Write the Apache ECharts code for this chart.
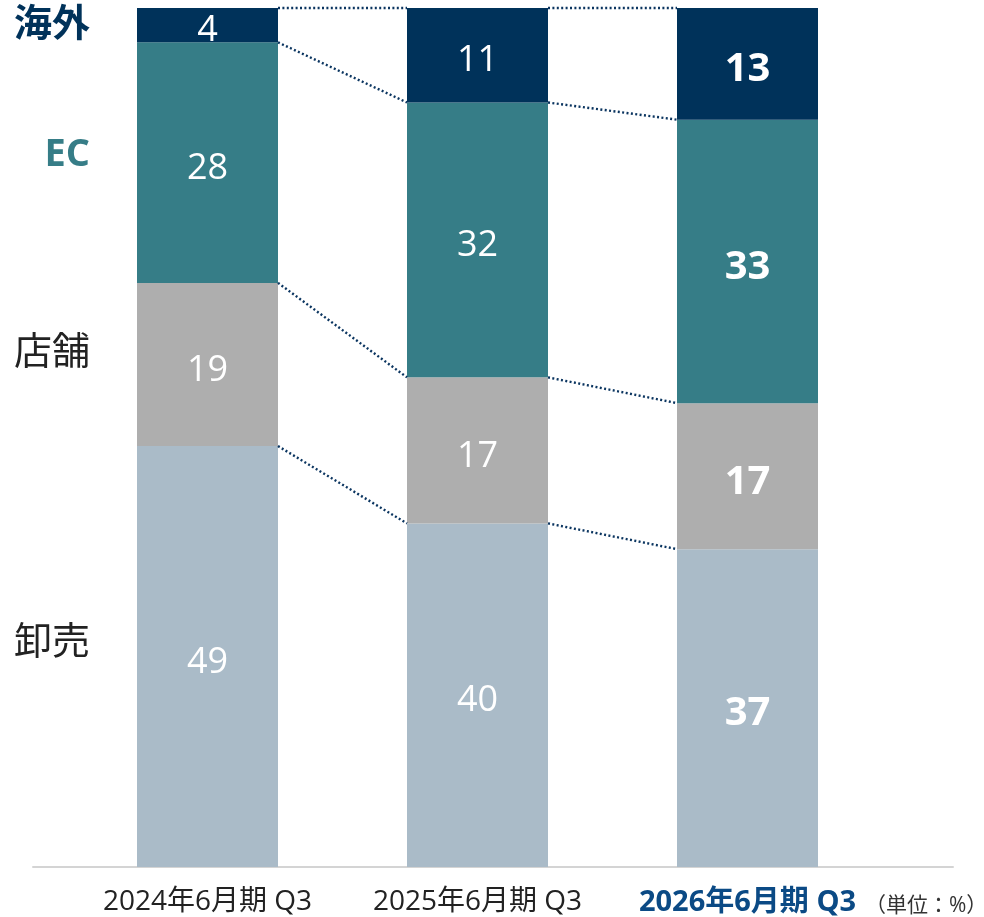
<!DOCTYPE html>
<html>
<head>
<meta charset="utf-8">
<script src="https://cdn.jsdelivr.net/npm/echarts@6/dist/echarts.min.js"></script>
<style>
  html, body { margin: 0; padding: 0; background: #fff; }
  #chart { width: 984px; height: 917px; }
</style>
</head>
<body>
<div id="chart"></div>
<script>
const categories = ["2024年6月期 Q3", "2025年6月期 Q3", "2026年6月期 Q3"];
const seriesNames = ["卸売", "店舗", "EC", "海外"];
const wholesale = [49, 40, 37];
const stores = [19, 17, 17];
const ecShare = [28, 32, 33];
const overseas = [4, 11, 13];
const unitNote = "（単位：%）";

const FONT = "'Open Sans', 'Noto Sans CJK JP', sans-serif";
const BAR_W = 141;
const colors = ["#aabbc8", "#aeaeae", "#367d87", "#00325a"];
const sideLabelStyle = [
  { color: "#222", fontWeight: "normal", nudge: -13 },
  { color: "#222", fontWeight: "normal", nudge: -11 },
  { color: "#367d87", fontWeight: "bold", nudge: -7 },
  { color: "#00325a", fontWeight: "bold", nudge: 0 },
];
const values = [wholesale, stores, ecShare, overseas];
const lastIdx = categories.length - 1;

// cumulative tops of each layer, per category
const tops = values.map((_, s) =>
  categories.map((_, i) => values.slice(0, s + 1).reduce((a, arr) => a + arr[i], 0))
);

// connector segments: [fromCategory, valueAtFrom, valueAtNext]
const connectors = [];
tops.forEach((row) => {
  for (let i = 0; i < lastIdx; i++) connectors.push([i, row[i], row[i + 1]]);
});

const chart = echarts.init(document.getElementById("chart"));

const barSeries = seriesNames.map((name, s) => ({
  name,
  type: "bar",
  stack: "share",
  barWidth: BAR_W,
  xAxisIndex: 0,
  yAxisIndex: 0,
  itemStyle: { color: colors[s] },
  label: {
    show: true,
    position: "inside",
    offset: [0, 6],
    color: "#fff",
    fontFamily: FONT,
    fontSize: 36,
  },
  data: values[s].map((v, i) =>
    i === lastIdx
      ? { value: v, label: { fontWeight: "bold", fontSize: 40 } }
      : v
  ),
}));

chart.setOption({
  animation: false,
  textStyle: { fontFamily: FONT },
  title: {
    text: unitNote,
    left: 860,
    top: 891,
    textStyle: { fontFamily: FONT, fontSize: 21, fontWeight: "normal", color: "#333" },
  },
  grid: [
    { left: 72.5, right: 101.5, top: 8, bottom: 50 },
    { left: 33, right: 31, top: 8, bottom: 50 },
  ],
  xAxis: [
    {
      type: "category",
      gridIndex: 0,
      data: categories.map((c, i) =>
        i === lastIdx
          ? { value: c, textStyle: { fontWeight: "bold", color: "#0b4a85", fontSize: 29 } }
          : c
      ),
      axisLine: { show: false },
      axisTick: { show: false },
      axisLabel: {
        interval: 0,
        hideOverlap: false,
        fontFamily: FONT,
        fontSize: 28,
        color: "#222",
        margin: 21,
      },
    },
    {
      type: "value",
      gridIndex: 1,
      min: 0,
      max: 1,
      axisLine: { show: true, lineStyle: { color: "#d4d4d4", width: 2 } },
      axisTick: { show: false },
      axisLabel: { show: false },
      splitLine: { show: false },
    },
  ],
  yAxis: [
    { type: "value", gridIndex: 0, min: 0, max: 100, show: false },
    { type: "value", gridIndex: 1, min: 0, max: 1, show: false },
  ],
  series: [
    ...barSeries,
    {
      type: "custom",
      xAxisIndex: 0,
      yAxisIndex: 0,
      z: 5,
      data: connectors,
      renderItem: (params, api) => {
        const i = api.value(0);
        const a = api.coord([i, api.value(1)]);
        const b = api.coord([i + 1, api.value(2)]);
        return {
          type: "line",
          shape: { x1: a[0] + BAR_W / 2, y1: a[1], x2: b[0] - BAR_W / 2, y2: b[1] },
          style: { stroke: "#0b3560", lineWidth: 2.4, lineDash: [2, 2.4] },
        };
      },
    },
  ],
});

// series names to the left of the first bar, near the middle of its segments
const sideLabels = seriesNames.map((name, s) => {
  const mid = tops[s][0] - values[s][0] / 2;
  const p = chart.convertToPixel({ gridIndex: 0 }, [0, mid]);
  return {
    type: "text",
    x: p[0] - BAR_W / 2 - 47,
    y: p[1] + sideLabelStyle[s].nudge,
    style: {
      text: name,
      align: "right",
      verticalAlign: "middle",
      fontFamily: FONT,
      fontSize: 38,
      fontWeight: sideLabelStyle[s].fontWeight,
      fill: sideLabelStyle[s].color,
    },
  };
});
chart.setOption({ graphic: sideLabels });

window.addEventListener("resize", () => chart.resize());
</script>
</body>
</html>
